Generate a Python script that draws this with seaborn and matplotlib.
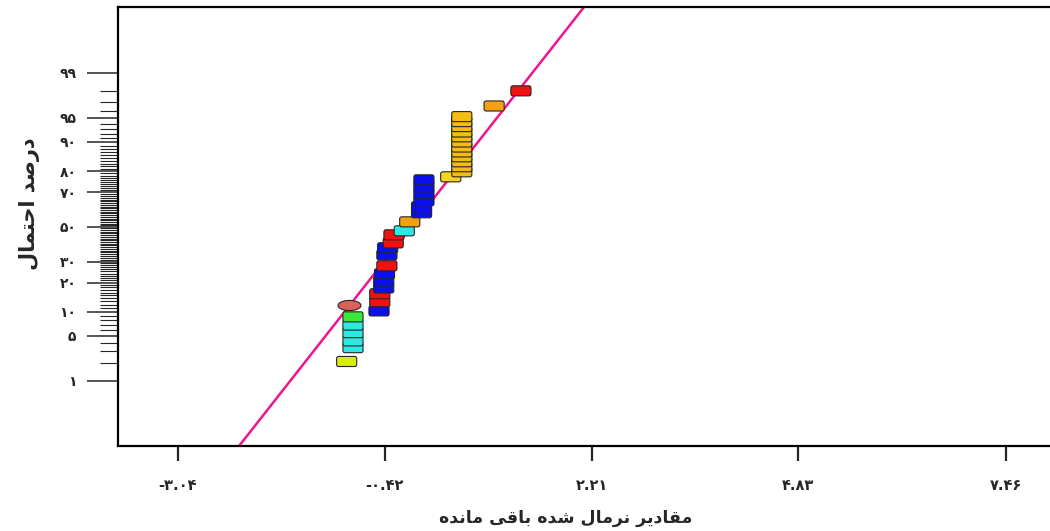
import numpy as np
import pandas as pd
import matplotlib
matplotlib.use("Agg")
import matplotlib.pyplot as plt
import seaborn as sns
from statistics import NormalDist

# residuals (x) and normal % probability (y), bottom to top
resid = [-0.90, -0.82, -0.82, -0.82, -0.82, -0.82, -0.49, -0.87, -0.48, -0.48,
         -0.43, -0.43, -0.42, -0.39, -0.39, -0.38, -0.31, -0.30, -0.17, -0.10,
         0.05, 0.05, 0.08, 0.08, 0.08, 0.08, 0.42,
         0.56, 0.56, 0.56, 0.56, 0.56, 0.56, 0.56, 0.56, 0.56, 0.56, 0.56, 0.56,
         0.97, 1.31]
prob_pct = [2.1, 3.4, 4.25, 5.5, 6.9, 8.7, 10.2, 11.9, 12.9, 15.6,
            17.8, 20.7, 23.9, 27.8, 33.6, 37.6, 40.4, 45.2, 47.6, 53.0,
            58.4, 61.9, 65.3, 69.1, 72.7, 76.1, 77.5,
            79.7, 81.8, 83.7, 85.5, 87.1, 88.6, 90.0, 91.3, 92.4, 93.5, 94.4, 95.2,
            96.6, 98.0]
point_color = ["yellowgreen", "cyan", "cyan", "cyan", "cyan", "green", "blue", "salmon", "red", "red",
               "blue", "blue", "blue", "red", "blue", "blue", "red", "red", "cyan", "orange",
               "blue", "blue", "blue", "blue", "blue", "blue", "yellow",
               "gold", "gold", "gold", "gold", "gold", "gold", "gold", "gold", "gold", "gold", "gold", "gold",
               "orange", "red"]
point_kind = ["rect"] * 7 + ["oval"] + ["rect"] * 33

# fitted normal line
fit_mean = -0.08
fit_sd = 0.66

x_ticks = [-3.04, -0.42, 2.21, 4.83, 7.46]
y_ticks = [1, 5, 10, 20, 30, 50, 70, 80, 90, 95, 99]
x_title = "مقادیر نرمال شده باقی مانده"
y_title = "درصد احتمال"

palette = {
    "blue": "#0a10ec",
    "red": "#f21010",
    "cyan": "#2ee8e6",
    "green": "#3ae83a",
    "yellowgreen": "#d6ee08",
    "salmon": "#d9625a",
    "orange": "#f5a012",
    "gold": "#f6bc14",
    "yellow": "#f8d41e",
}

FA_DIGITS = str.maketrans("0123456789", "۰۱۲۳۴۵۶۷۸۹")

# presentation forms: isolated, final, initial, medial
FORMS = {
    "ا": ("\uFE8D", "\uFE8E", None, None),
    "ب": ("\uFE8F", "\uFE90", "\uFE91", "\uFE92"),
    "ت": ("\uFE95", "\uFE96", "\uFE97", "\uFE98"),
    "ح": ("\uFEA1", "\uFEA2", "\uFEA3", "\uFEA4"),
    "د": ("\uFEA9", "\uFEAA", None, None),
    "ر": ("\uFEAD", "\uFEAE", None, None),
    "ش": ("\uFEB5", "\uFEB6", "\uFEB7", "\uFEB8"),
    "ص": ("\uFEB9", "\uFEBA", "\uFEBB", "\uFEBC"),
    "ق": ("\uFED5", "\uFED6", "\uFED7", "\uFED8"),
    "ل": ("\uFEDD", "\uFEDE", "\uFEDF", "\uFEE0"),
    "م": ("\uFEE1", "\uFEE2", "\uFEE3", "\uFEE4"),
    "ن": ("\uFEE5", "\uFEE6", "\uFEE7", "\uFEE8"),
    "ه": ("\uFEE9", "\uFEEA", "\uFEEB", "\uFEEC"),
    "ی": ("\uFBFC", "\uFBFD", "\uFBFE", "\uFBFF"),
}


def shape_fa(text):
    out = []
    for i, c in enumerate(text):
        if c not in FORMS:
            out.append(c)
            continue
        prev = text[i - 1] if i > 0 else ""
        nxt = text[i + 1] if i + 1 < len(text) else ""
        join_prev = prev in FORMS and FORMS[prev][2] is not None
        join_next = FORMS[c][2] is not None and nxt in FORMS
        if join_prev and join_next:
            out.append(FORMS[c][3])
        elif join_prev:
            out.append(FORMS[c][1])
        elif join_next:
            out.append(FORMS[c][2])
        else:
            out.append(FORMS[c][0])
    return "".join(out)[::-1]


nd = NormalDist()
df = pd.DataFrame({
    "resid": resid,
    "z": [nd.inv_cdf(p / 100) for p in prob_pct],
    "color": point_color,
    "kind": point_kind,
})

sns.set_style("white")
plt.rcParams["font.family"] = ["DejaVu Sans"]

fig = plt.figure(figsize=(10.5, 5.31), dpi=100)
ax = fig.add_axes([118 / 1050, 1 - 446 / 531, 1 - 118 / 1050, (446 - 7) / 531])

# fitted line
zz = np.array([-3.5, 3.5])
sns.lineplot(x=fit_mean + fit_sd * zz, y=zz, color="#f0148e", lw=1.8, sort=False, ax=ax, zorder=2)

# rounded rectangle marker
t = np.linspace(0, np.pi / 2, 6)
r = 0.2
hw, hh = 1.0, 0.5
corners = [(hw - r, hh - r, 0), (-hw + r, hh - r, np.pi / 2), (-hw + r, -hh + r, np.pi), (hw - r, -hh + r, 1.5 * np.pi)]
pts = []
for cx, cy, a0 in corners:
    pts += [(cx + r * np.cos(a0 + a), cy + r * np.sin(a0 + a)) for a in t]
rect_marker = np.array(pts + [pts[0]])
ang = np.linspace(0, 2 * np.pi, 40)
oval_marker = np.column_stack([np.cos(ang), 0.44 * np.sin(ang)])

for kind, mk, size in [("rect", rect_marker, 210), ("oval", oval_marker, 275)]:
    sub = df[df["kind"] == kind]
    sns.scatterplot(data=sub, x="resid", y="z", hue="color", palette=palette, marker=mk, s=size,
                    edgecolor="#262626", linewidth=0.8, legend=False, ax=ax, zorder=3)

ax.set_xlim(-3.80, 8.02)
ax.set_ylim(-3.31, 3.32)

ax.set_xticks(x_ticks)
ax.set_xticklabels([f"{v:.2f}".translate(FA_DIGITS) for v in x_ticks], fontsize=10.5, fontweight="bold")
ax.set_yticks([nd.inv_cdf(v / 100) for v in y_ticks])
ax.set_yticklabels([str(v).translate(FA_DIGITS) for v in y_ticks], fontsize=10, fontweight="bold")
minor = [nd.inv_cdf(v / 100) for v in range(2, 99) if v not in y_ticks]
ax.set_yticks(minor, minor=True)

ax.tick_params(axis="y", which="major", direction="out", length=22, width=1.1, pad=8, left=True)
ax.tick_params(axis="y", which="minor", direction="out", length=13, width=0.8, left=True)
ax.tick_params(axis="x", which="major", direction="out", length=11, width=1.6, pad=12, bottom=True)

for side in ["left", "top", "bottom"]:
    ax.spines[side].set_color("black")
    ax.spines[side].set_linewidth(1.6)
ax.spines["right"].set_visible(False)

ax.set_xlabel(shape_fa(x_title), fontsize=12.5, fontweight="bold")
ax.xaxis.set_label_coords(0.480, -0.143)
ax.set_ylabel(shape_fa(y_title), fontsize=15, fontweight="bold")
ax.yaxis.set_label_coords(-0.084, 0.553)

fig.savefig("out.png", dpi=100)
